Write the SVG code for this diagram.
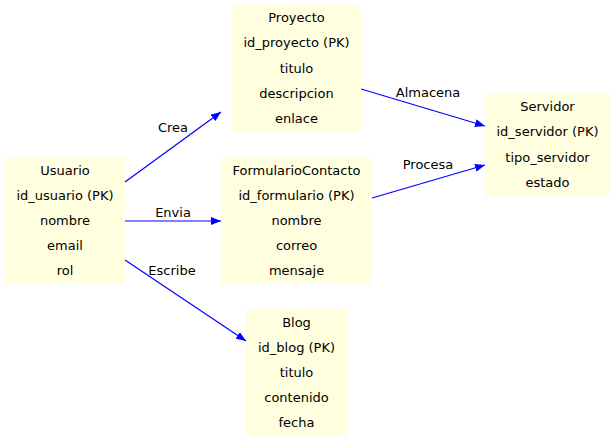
<svg xmlns="http://www.w3.org/2000/svg" width="616" height="443" viewBox="0 0 616 443">
<style>
.box{fill:#ffffe0;stroke:none}
text{font-family:"DejaVu Sans",sans-serif;font-size:13px;fill:#000;text-anchor:middle}
.edge{stroke:#0000ff;stroke-width:1.2;fill:none}
</style>
<defs>
<marker id="ah" viewBox="0 0 10 8" refX="10" refY="4" markerWidth="10" markerHeight="8" markerUnits="userSpaceOnUse" orient="auto">
<path d="M0,0 L10,4 L0,8 Z" fill="#0000ff"/>
</marker>
</defs>
<rect width="616" height="443" fill="#ffffff"/>
<g id="connectors">
<line class="edge" x1="125" y1="182" x2="221" y2="112" marker-end="url(#ah)"/>
<text x="173" y="132">Crea</text>
<line class="edge" x1="125" y1="221" x2="221" y2="221" marker-end="url(#ah)"/>
<text x="173" y="217">Envia</text>
<line class="edge" x1="125" y1="260" x2="246" y2="341" marker-end="url(#ah)"/>
<text x="172" y="275">Escribe</text>
<line class="edge" x1="361" y1="89" x2="485" y2="126" marker-end="url(#ah)"/>
<text x="428" y="97">Almacena</text>
<line class="edge" x1="372" y1="198" x2="485" y2="165" marker-end="url(#ah)"/>
<text x="428" y="169">Procesa</text>
</g>
<g id="Usuario">
<rect class="box" x="5" y="157" width="120" height="127"/>
<text x="65" y="175">Usuario</text>
<text x="65" y="200">id_usuario (PK)</text>
<text x="65" y="225">nombre</text>
<text x="65" y="250">email</text>
<text x="65" y="275">rol</text>
</g>
<g id="Proyecto">
<rect class="box" x="232" y="6" width="129" height="125"/>
<text x="296.5" y="22">Proyecto</text>
<text x="296.5" y="47">id_proyecto (PK)</text>
<text x="296.5" y="73">titulo</text>
<text x="296.5" y="98">descripcion</text>
<text x="296.5" y="123">enlace</text>
</g>
<g id="FormularioContacto">
<rect class="box" x="221" y="157" width="151" height="127"/>
<text x="296.5" y="175">FormularioContacto</text>
<text x="296.5" y="200">id_formulario (PK)</text>
<text x="296.5" y="225">nombre</text>
<text x="296.5" y="250">correo</text>
<text x="296.5" y="275">mensaje</text>
</g>
<g id="Blog">
<rect class="box" x="246" y="310" width="101" height="126"/>
<text x="296.5" y="327">Blog</text>
<text x="296.5" y="352">id_blog (PK)</text>
<text x="296.5" y="377">titulo</text>
<text x="296.5" y="402">contenido</text>
<text x="296.5" y="427">fecha</text>
</g>
<g id="Servidor">
<rect class="box" x="485" y="93" width="125" height="103"/>
<text x="547.5" y="111">Servidor</text>
<text x="547.5" y="136">id_servidor (PK)</text>
<text x="547.5" y="162">tipo_servidor</text>
<text x="547.5" y="187">estado</text>
</g>
</svg>
